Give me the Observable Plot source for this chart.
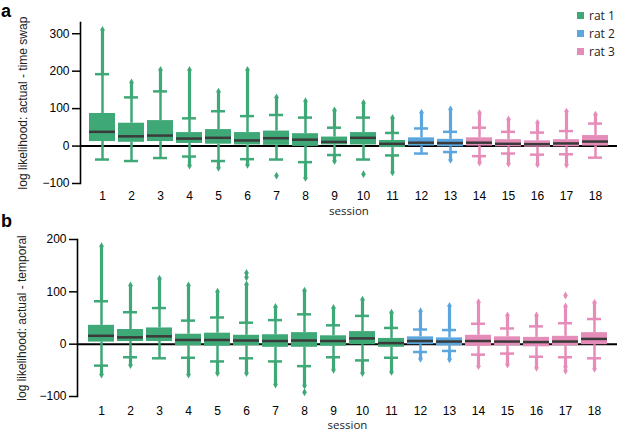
<!DOCTYPE html>
<html>
<head>
<meta charset="utf-8">
<script src="https://cdn.jsdelivr.net/npm/d3@7"></script>
<script src="https://cdn.jsdelivr.net/npm/@observablehq/plot@0.6"></script>
<style>
  html, body { margin: 0; padding: 0; background: #fff; }
  #fig { position: relative; width: 617px; height: 432px; overflow: hidden; }
  #fig .panel { position: absolute; left: 0; }
  .letter { position: absolute; font-family: "Liberation Sans", Arial, sans-serif; font-weight: bold; font-size: 18px; line-height: 18px; }
  #legend { position: absolute; left: 577px; top: 6px; font-family: "Open Sans", sans-serif; font-size: 12px; color: #222; }
  #legend .item { display: flex; align-items: center; height: 18px; }
  #legend .sw { width: 7px; height: 7px; margin-right: 5px; }
</style>
</head>
<body>
<div id="fig"></div>
<script>
// ---------- data ----------
const sessions = [1,2,3,4,5,6,7,8,9,10,11,12,13,14,15,16,17,18];
const rats     = [1,1,1,1,1,1,1,1,1,1,1,2,2,3,3,3,3,3];
const ratNames = ["rat 1", "rat 2", "rat 3"];
const ratColors = ["#3fa877", "#5ca6de", "#e68cb9"];

// panel a: log likelihood actual - time swap
const aQ1  = [12,10,12,7,5,3,2,-1,3,3,-4,0,-2,0,-2,-3,-2,0];
const aMed = [38,26,28,20,22,15,21,17,11,22,6,9,8,9,6,5,7,12];
const aQ3  = [87,61,68,36,44,36,40,33,24,36,15,22,18,22,17,14,17,28];
const aWLo = [-36,-40,-32,-28,-40,-35,-36,-43,-24,-36,-25,-20,-16,-27,-20,-23,-22,-31];
const aWHi = [192,130,146,74,93,80,83,76,49,76,35,47,38,49,38,36,40,60];
const aOLo = [null,null,null,-52,-58,-50,null,-85,-40,null,-70,null,-37,-44,-47,-49,-50,null];
const aOHi = [310,170,203,203,145,203,130,120,95,115,75,89,98,88,71,62,92,84];
const aIsoSession = [7,10];
const aIsoValue   = [-79,-75];

// panel b: log likelihood actual - temporal
const bQ1  = [4,5,5,-3,-4,-3,-6,-6,-4,-1,-6,-1,-3,-4,-3,-5,-3,-1];
const bMed = [16,13,15,8,8,7,6,7,6,11,2,6,5,6,5,4,5,10];
const bQ3  = [36,28,31,19,21,17,18,22,16,24,11,14,12,17,14,13,15,22];
const bWLo = [-41,-25,-27,-26,-33,-27,-33,-42,-25,-31,-26,-15,-13,-20,-18,-24,-25,-27];
const bWHi = [82,61,69,45,51,41,46,57,36,54,31,28,27,39,30,34,40,48];
const bOLo = [-58,-40,null,-58,-55,-55,-77,-79,-49,-55,-53,-28,-29,-42,-39,-45,-43,-47];
const bOHi = [187,112,125,112,100,114,71,102,69,85,60,63,73,80,55,55,72,79];
const bIsoSession = [6,6,8,17,17];
const bIsoValue   = [128,136,-92,93,-51];

const yTicksA = [-100,0,100,200,300];
const yTicksB = [-100,0,100,200];

// ---------- build ----------
function table(q1, med, q3, wlo, whi, olo, ohi) {
  return sessions.map((s, i) => ({
    session: s, rat: rats[i], q1: q1[i], med: med[i], q3: q3[i],
    wlo: wlo[i], whi: whi[i], olo: olo[i], ohi: ohi[i]
  }));
}
function iso(ss, vs) { return ss.map((s, i) => ({session: s, rat: rats[s - 1], v: vs[i]})); }

function panel(opts) {
  const {rows, isoRows, yDomain, yTicks, ylabel, marginLeft, marginTop, height, marginBottom, tickPad, labelDy, ylabelDx} = opts;
  return Plot.plot({
    width: 617, height, marginLeft, marginRight: 0, marginTop, marginBottom,
    style: {fontFamily: "'Liberation Sans', Arial, sans-serif", fontSize: "12px", color: "#000", background: "transparent", overflow: "visible"},
    x: {type: "band", domain: sessions, padding: 0.12},
    y: {domain: yDomain},
    color: {domain: [1,2,3], range: ratColors},
    marks: [
      Plot.ruleY([0], {stroke: "#000", strokeWidth: 2}),
      // outlier stacks
      Plot.ruleX(rows.filter(d => d.ohi != null), {x: "session", y1: "whi", y2: "ohi", stroke: "rat", strokeWidth: 3.2}),
      Plot.ruleX(rows.filter(d => d.olo != null), {x: "session", y1: "wlo", y2: "olo", stroke: "rat", strokeWidth: 3.2}),
      Plot.dot(rows.filter(d => d.ohi != null), {x: "session", y: "ohi", fill: "rat", symbol: "diamond", r: 2.4}),
      Plot.dot(rows.filter(d => d.olo != null), {x: "session", y: "olo", fill: "rat", symbol: "diamond", r: 2.4}),
      Plot.dot(isoRows, {x: "session", y: "v", fill: "rat", symbol: "diamond", r: 2.4}),
      // whiskers
      Plot.ruleX(rows, {x: "session", y1: "q3", y2: "whi", stroke: "rat", strokeWidth: 2.5}),
      Plot.ruleX(rows, {x: "session", y1: "q1", y2: "wlo", stroke: "rat", strokeWidth: 2.5}),
      Plot.tickY(rows, {x: "session", y: "whi", stroke: "rat", strokeWidth: 2.5, insetLeft: 6, insetRight: 6}),
      Plot.tickY(rows, {x: "session", y: "wlo", stroke: "rat", strokeWidth: 2.5, insetLeft: 6, insetRight: 6}),
      // boxes
      Plot.barY(rows, {x: "session", y1: "q1", y2: "q3", fill: "rat"}),
      Plot.tickY(rows, {x: "session", y: "med", stroke: "#3a3a3a", strokeWidth: 2.5}),
      // axes
      Plot.frame({anchor: "left", stroke: "#000", strokeWidth: 1.6}),
      Plot.axisY({ticks: yTicks, tickSize: 8, tickPadding: 3, strokeWidth: 1.5, fontSize: 12, label: null}),
      Plot.axisX({tickSize: 0, tickPadding: tickPad, fontSize: 12, label: null}),
      Plot.text(["session"], {frameAnchor: "bottom", dy: labelDy, lineAnchor: "middle", textAnchor: "middle", fontSize: 11.5, fontFamily: "'Open Sans', sans-serif", fill: "#222"}),
      Plot.text([ylabel], {frameAnchor: "left", dx: ylabelDx, rotate: -90, textAnchor: "middle", lineAnchor: "middle", fontSize: 12, fill: "#222"})
    ]
  });
}

const fig = document.getElementById("fig");

const pa = panel({
  rows: table(aQ1, aMed, aQ3, aWLo, aWHi, aOLo, aOHi),
  isoRows: iso(aIsoSession, aIsoValue),
  yDomain: [-100, 330], yTicks: yTicksA,
  ylabel: "log likelihood: actual - time swap",
  marginLeft: 80, marginTop: 22, height: 216, marginBottom: 33,
  tickPad: 8, labelDy: 28, ylabelDx: -57
});
pa.classList.add("panel"); pa.style.top = "0px";
fig.appendChild(pa);

const pb = panel({
  rows: table(bQ1, bMed, bQ3, bWLo, bWHi, bOLo, bOHi),
  isoRows: iso(bIsoSession, bIsoValue),
  yDomain: [-100, 200], yTicks: yTicksB,
  ylabel: "log likelihood: actual - temporal",
  marginLeft: 77, marginTop: 23, height: 216, marginBottom: 36,
  tickPad: 10, labelDy: 29, ylabelDx: -55
});
pb.classList.add("panel"); pb.style.top = "216px";
fig.appendChild(pb);

// panel letters
for (const [t, top] of [["a", 2], ["b", 212]]) {
  const el = document.createElement("div");
  el.className = "letter"; el.textContent = t;
  el.style.left = "1px"; el.style.top = top + "px";
  fig.appendChild(el);
}

// legend
const lg = document.createElement("div");
lg.id = "legend";
ratNames.forEach((n, i) => {
  const it = document.createElement("div"); it.className = "item";
  const sw = document.createElement("span"); sw.className = "sw"; sw.style.background = ratColors[i];
  const tx = document.createElement("span"); tx.textContent = n;
  it.appendChild(sw); it.appendChild(tx); lg.appendChild(it);
});
fig.appendChild(lg);
</script>
</body>
</html>
